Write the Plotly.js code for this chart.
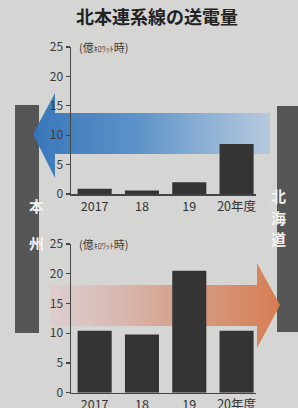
<!DOCTYPE html>
<html><head><meta charset="utf-8">
<script src="https://cdn.plot.ly/plotly-3.0.1.min.js"></script>
<style>html,body{margin:0;padding:0;background:#d5d5d3;}#c{width:298px;height:408px;}</style>
</head><body><div id="c"></div>
<script>
const years = ['2017', '18', '19', '20年度'];
const toHonshu = [0.9, 0.6, 2.0, 8.5];     // 北海道→本州
const toHokkaido = [10.4, 9.8, 20.5, 10.4]; // 本州→北海道
const yTicks = [0, 5, 10, 15, 20, 25];
const unitLabel = '(億<span style="font-size:8px">ｷﾛﾜｯﾄ</span>時)';
const titleText = '北本連系線の送電量';

const W = 298, H = 408;
const F = '"Noto Sans CJK JP", "Open Sans", sans-serif';
const barColor = '#343434';

// decorative arrows in pixel space (subplot xy covers whole page)
const blueArrow = {x:[270,55,55,33,55,55,270,270], y:[113,113,93,134,178,154,154,113]};
const orangeArrow = {x:[50,257,257,280,257,257,50,50], y:[285,285,263,305,348,326,326,285]};

const traces = [
  {type:'scatter', mode:'lines', x:blueArrow.x, y:blueArrow.y, xaxis:'x', yaxis:'y',
   fill:'toself', line:{width:0, color:'rgba(0,0,0,0)'}, hoverinfo:'skip', showlegend:false,
   fillgradient:{type:'horizontal', colorscale:[[0,'rgba(52,116,186,0.97)'],[0.45,'rgba(80,140,200,0.9)'],[1,'rgba(170,196,225,0.75)']]}},
  {type:'scatter', mode:'lines', x:orangeArrow.x, y:orangeArrow.y, xaxis:'x', yaxis:'y',
   fill:'toself', line:{width:0, color:'rgba(0,0,0,0)'}, hoverinfo:'skip', showlegend:false,
   fillgradient:{type:'horizontal', colorscale:[[0,'rgba(224,200,204,0.6)'],[0.5,'rgba(214,160,140,0.9)'],[1,'rgba(214,122,78,0.97)']]}},
  {type:'bar', x:years, y:toHonshu, xaxis:'x2', yaxis:'y2', marker:{color:barColor}, width:0.72, showlegend:false},
  {type:'bar', x:years, y:toHokkaido, xaxis:'x3', yaxis:'y3', marker:{color:barColor}, width:0.72, showlegend:false}
];

const xl = 71/W, xr = 255.5/W;
const fy = p => (H - p)/H;
const yAxisCommon = {range:[0,25], tickvals:yTicks, ticks:'outside', ticklen:4, tickwidth:1.2, tickcolor:'#444',
  showline:true, linecolor:'#444', linewidth:1.5, showgrid:false, zeroline:false, fixedrange:true,
  tickfont:{family:F, size:12, color:'#3a3a3a'}};
const xAxisCommon = {type:'category', range:[-0.5,3.4], showline:true, linecolor:'#444', linewidth:1.5,
  ticks:'', showgrid:false, fixedrange:true, tickfont:{family:F, size:12.5, color:'#333'}};

const layout = {
  width:W, height:H, margin:{l:0,r:0,t:0,b:0},
  paper_bgcolor:'#d5d5d3', plot_bgcolor:'rgba(0,0,0,0)',
  showlegend:false, bargap:0.28,
  xaxis:{domain:[0,1], range:[0,W], visible:false, fixedrange:true},
  yaxis:{domain:[0,1], range:[H,0], visible:false, fixedrange:true},
  xaxis2:Object.assign({}, xAxisCommon, {domain:[xl,xr], anchor:'y2'}),
  yaxis2:Object.assign({}, yAxisCommon, {domain:[fy(194), fy(47)], anchor:'x2'}),
  xaxis3:Object.assign({}, xAxisCommon, {domain:[xl,xr], anchor:'y3'}),
  yaxis3:Object.assign({}, yAxisCommon, {domain:[fy(392.7), fy(244)], anchor:'x3'}),
  title:{text:'<b>'+titleText+'</b>', x:0.527, xanchor:'center', y:1-18/H, yanchor:'middle',
    font:{family:F, size:18, color:'#222'}},
  shapes:[
    {type:'rect', xref:'paper', yref:'paper', x0:15/W, x1:39/W, y0:fy(333), y1:fy(105), fillcolor:'#565656', line:{width:0}, layer:'below'},
    {type:'rect', xref:'paper', yref:'paper', x0:277/W, x1:1, y0:fy(332), y1:fy(106), fillcolor:'#565656', line:{width:0}, layer:'below'}
  ],
  annotations:[
    {text:unitLabel, xref:'paper', yref:'paper', x:77/W, y:fy(47), xanchor:'left', yanchor:'middle', showarrow:false, font:{family:F, size:11, color:'#3a3a3a'}},
    {text:unitLabel, xref:'paper', yref:'paper', x:77/W, y:fy(244), xanchor:'left', yanchor:'middle', showarrow:false, font:{family:F, size:11, color:'#3a3a3a'}},
    {text:'<b>本</b>', xref:'paper', yref:'paper', x:27/W, y:fy(205), showarrow:false, font:{family:F, size:15, color:'#f2f2f2'}},
    {text:'<b>州</b>', xref:'paper', yref:'paper', x:27/W, y:fy(242), showarrow:false, font:{family:F, size:15, color:'#f2f2f2'}},
    {text:'<b>北</b>', xref:'paper', yref:'paper', x:287.5/W, y:fy(195), showarrow:false, font:{family:F, size:15, color:'#f2f2f2'}},
    {text:'<b>海</b>', xref:'paper', yref:'paper', x:287.5/W, y:fy(217), showarrow:false, font:{family:F, size:15, color:'#f2f2f2'}},
    {text:'<b>道</b>', xref:'paper', yref:'paper', x:287.5/W, y:fy(239), showarrow:false, font:{family:F, size:15, color:'#f2f2f2'}}
  ]
};
Plotly.newPlot('c', traces, layout, {displayModeBar:false, staticPlot:true});
</script></body></html>
